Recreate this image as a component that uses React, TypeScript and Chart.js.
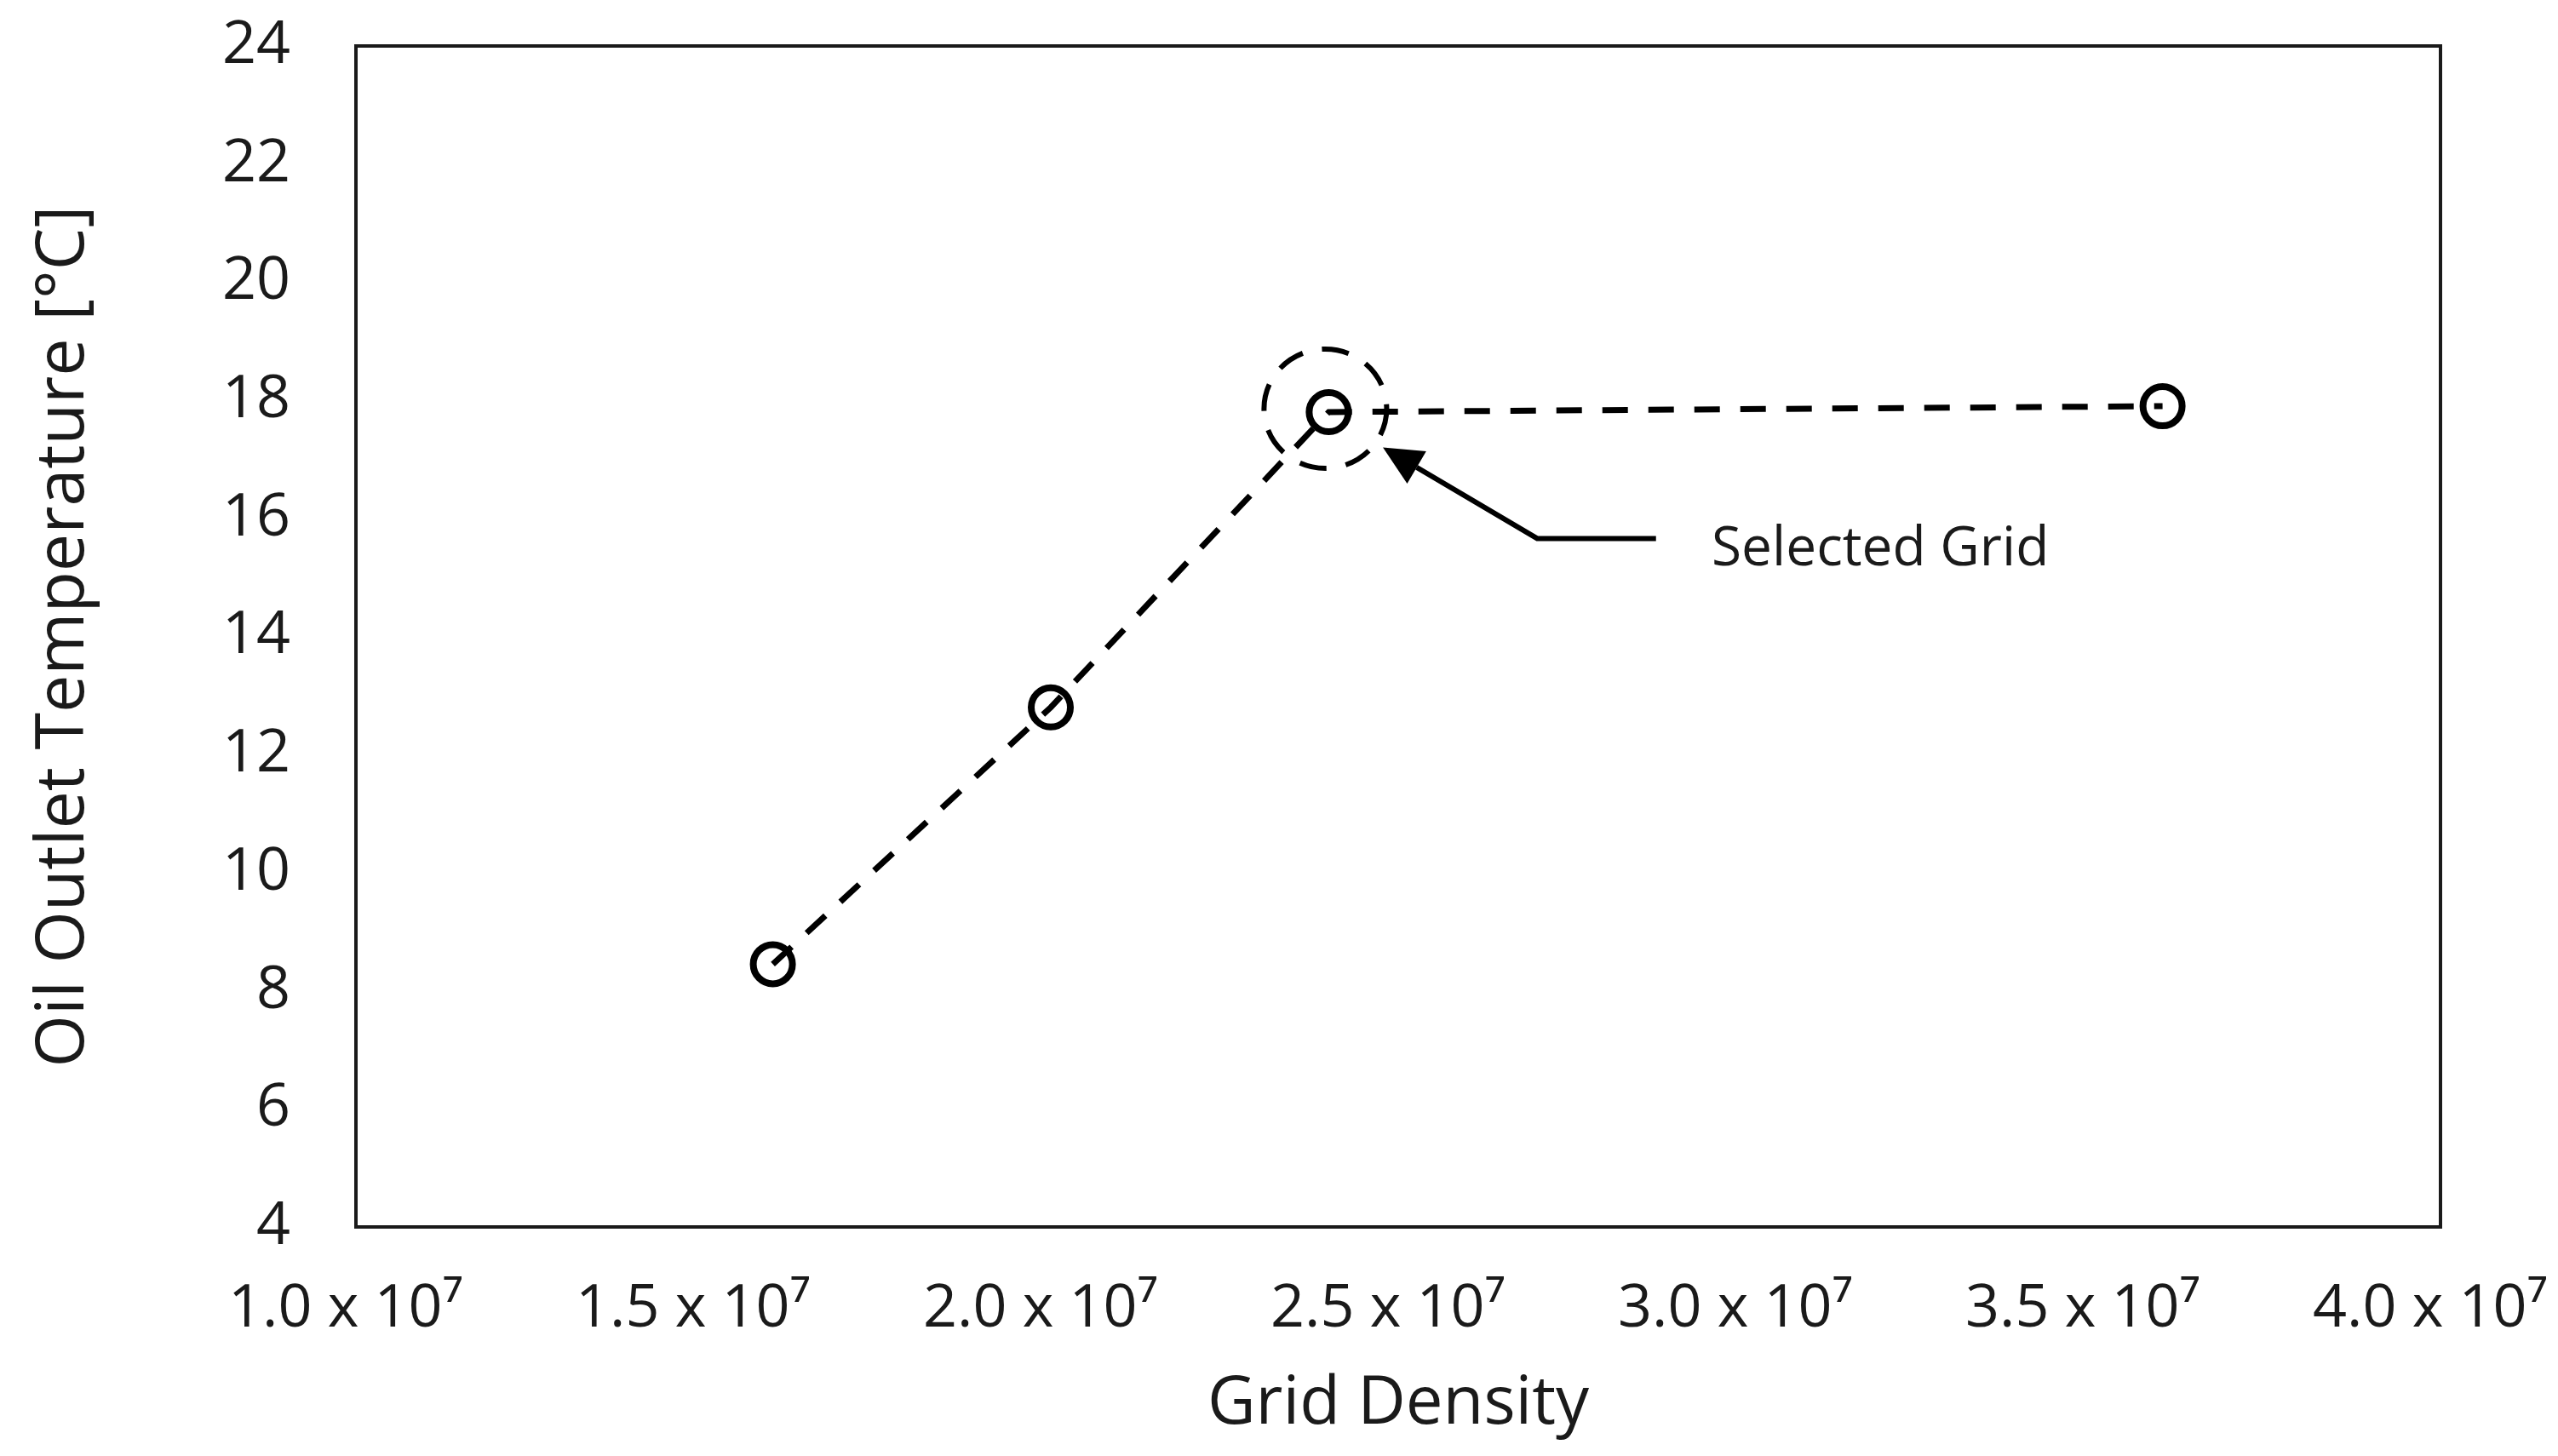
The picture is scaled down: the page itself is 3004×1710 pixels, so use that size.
import React, { useEffect, useRef } from "react";
import { Chart, registerables } from "chart.js";

Chart.register(...registerables);

// ---- Data ----
const gridDensity = [1.6e7, 2.0e7, 2.4e7, 3.6e7];
const oilOutletTemp = [8.45, 12.8, 17.8, 17.9];
const xTickValues = [1.0e7, 1.5e7, 2.0e7, 2.5e7, 3.0e7, 3.5e7, 4.0e7];
const xTickLabels = ["1.0 x 10⁷", "1.5 x 10⁷", "2.0 x 10⁷", "2.5 x 10⁷", "3.0 x 10⁷", "3.5 x 10⁷", "4.0 x 10⁷"];
const yTickValues = [4, 6, 8, 10, 12, 14, 16, 18, 20, 22, 24];
const xAxisTitle = "Grid Density";
const yAxisTitle = "Oil Outlet Temperature [°C]";
const selectedIndex = 2;
const annotationText = "Selected Grid";
// annotation anchor points in data units [x, y]
const arrowTip = [2.478e7, 17.2];
const arrowElbow = [2.70e7, 15.66];
const arrowTail = [2.871e7, 15.66];
const textAnchor = [2.951e7, 15.46];

const FONT = "'Open Sans', sans-serif";
const W = 3004;
const H = 1710;

const framePlugin = {
  id: "frame",
  afterDraw(chart: any) {
    const { ctx, chartArea: a } = chart;
    ctx.save();
    ctx.strokeStyle = "#1a1a1a";
    ctx.lineWidth = 4;
    ctx.setLineDash([]);
    ctx.strokeRect(a.left, a.top, a.right - a.left, a.bottom - a.top);
    ctx.restore();
  },
};

const annotationPlugin = {
  id: "selectedAnnotation",
  afterDatasetsDraw(chart: any) {
    const { ctx } = chart;
    const xs = chart.scales.x;
    const ys = chart.scales.y;
    const px = (v: number) => xs.getPixelForValue(v);
    const py = (v: number) => ys.getPixelForValue(v);
    ctx.save();
    // dashed circle around selected point
    const cx = px(gridDensity[selectedIndex]);
    const cy = py(oilOutletTemp[selectedIndex]);
    ctx.strokeStyle = "#000";
    ctx.lineWidth = 6;
    ctx.setLineDash([32, 23]);
    ctx.beginPath();
    ctx.ellipse(cx - 4, cy - 4, 72, 70, 0, 0, Math.PI * 2);
    ctx.stroke();
    // arrow
    ctx.setLineDash([]);
    ctx.lineWidth = 6;
    const tx = px(arrowTip[0]), ty = py(arrowTip[1]);
    const ex = px(arrowElbow[0]), ey = py(arrowElbow[1]);
    const sx = px(arrowTail[0]), sy = py(arrowTail[1]);
    const ang = Math.atan2(ty - ey, tx - ex);
    const headLen = 46;
    const headW = 22;
    const bx = tx - headLen * Math.cos(ang);
    const by = ty - headLen * Math.sin(ang);
    ctx.beginPath();
    ctx.moveTo(sx, sy);
    ctx.lineTo(ex, ey);
    ctx.lineTo(bx, by);
    ctx.stroke();
    ctx.fillStyle = "#000";
    ctx.beginPath();
    ctx.moveTo(tx, ty);
    ctx.lineTo(bx + headW * Math.sin(ang), by - headW * Math.cos(ang));
    ctx.lineTo(bx - headW * Math.sin(ang), by + headW * Math.cos(ang));
    ctx.closePath();
    ctx.fill();
    // text
    ctx.font = `64px ${FONT}`;
    ctx.textAlign = "left";
    ctx.textBaseline = "middle";
    ctx.fillStyle = "#1a1a1a";
    ctx.fillText(annotationText, px(textAnchor[0]), py(textAnchor[1]));
    ctx.restore();
  },
};

export default function App() {
  const ref = useRef<HTMLCanvasElement | null>(null);
  useEffect(() => {
    document.body.style.margin = "0";
    const canvas = ref.current;
    if (!canvas) return;
    const chart = new Chart(canvas, {
      type: "scatter",
      data: {
        datasets: [
          {
            data: gridDensity.map((x, i) => ({ x, y: oilOutletTemp[i] })),
            showLine: true,
            borderColor: "#000",
            borderWidth: 7,
            borderDash: [30, 24],
            pointStyle: "circle",
            pointRadius: 23,
            pointBorderWidth: 8,
            pointBackgroundColor: "rgba(0,0,0,0)",
            pointBorderColor: "#000",
          },
        ],
      },
      options: {
        animation: false,
        responsive: false,
        devicePixelRatio: 1,
        layout: { padding: { top: 54, right: 138, left: 0, bottom: 0 } },
        plugins: { legend: { display: false }, tooltip: { enabled: false } },
        scales: {
          x: {
            type: "linear",
            min: xTickValues[0],
            max: xTickValues[xTickValues.length - 1],
            afterBuildTicks(scale: any) {
              scale.ticks = xTickValues.map((v) => ({ value: v }));
            },
            afterFit(scale: any) {
              scale.height = 269;
              scale.paddingLeft = 0;
              scale.paddingRight = 0;
              scale.paddingTop = 0;
              scale.paddingBottom = 0;
            },
            grid: { display: false, drawTicks: false },
            border: { display: false },
            ticks: {
              padding: 55,
              labelOffset: -12,
              color: "#1a1a1a",
              font: { family: FONT, size: 70 },
              maxRotation: 0,
              autoSkip: false,
              callback: (v: any) => {
                const i = xTickValues.indexOf(Number(v));
                return i >= 0 ? xTickLabels[i] : "";
              },
            },
            title: {
              display: true,
              text: xAxisTitle,
              color: "#1a1a1a",
              font: { family: FONT, size: 78 },
              padding: { top: 0, bottom: 13 },
            },
          },
          y: {
            type: "linear",
            min: yTickValues[0],
            max: yTickValues[yTickValues.length - 1],
            afterBuildTicks(scale: any) {
              scale.ticks = yTickValues.map((v) => ({ value: v }));
            },
            afterFit(scale: any) {
              scale.width = 418;
              scale.paddingLeft = 0;
              scale.paddingRight = 0;
              scale.paddingTop = 0;
              scale.paddingBottom = 0;
            },
            grid: { display: false, drawTicks: false },
            border: { display: false },
            ticks: {
              padding: 77,
              color: "#1a1a1a",
              font: { family: FONT, size: 70 },
            },
            title: {
              display: true,
              text: yAxisTitle,
              color: "#1a1a1a",
              font: { family: FONT, size: 79 },
              padding: { top: 28, bottom: 0 },
            },
          },
        },
      },
      plugins: [framePlugin, annotationPlugin],
    } as any);
    return () => chart.destroy();
  }, []);
  return (
    <div style={{ width: W, height: H, background: "#fff" }}>
      <canvas ref={ref} width={W} height={H} style={{ width: W, height: H, display: "block" }} />
    </div>
  );
}
